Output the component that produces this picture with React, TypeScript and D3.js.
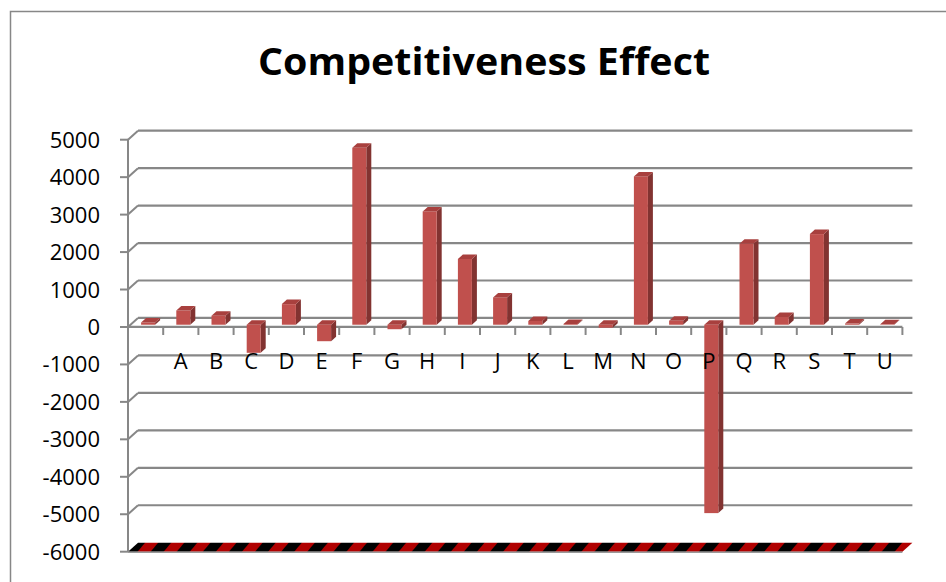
import React from 'react';
import * as d3 from 'd3';

const categories = ['', 'A', 'B', 'C', 'D', 'E', 'F', 'G', 'H', 'I', 'J', 'K', 'L', 'M', 'N', 'O', 'P', 'Q', 'R', 'S', 'T', 'U'];
const values = [60, 380, 240, -750, 550, -440, 4725, -120, 3025, 1755, 730, 100, 20, -80, 3960, 105, -5030, 2165, 205, 2420, 30, 12];
const yTicks = [5000, 4000, 3000, 2000, 1000, 0, -1000, -2000, -3000, -4000, -5000, -6000];

const W = 946;
const H = 582;
const DX = 10; // wall depth
const DY = -9;

export default function App() {
  const keys = categories.map((_, i) => String(i));
  const x = d3.scaleBand<string>().domain(keys).range([128, 902.4]);
  const y = d3.scaleLinear().domain([-6000, 5000]).range([551.7, 139.7]);
  const bw = x.bandwidth();
  const faceW = 14;
  const fdx = DX * 0.25;
  const fdy = DY * 0.25;
  const sdx = DX * 0.5;
  const sdy = DY * 0.5;
  const y0 = y(0);
  const yMin = y(-6000);
  const xL = x.range()[0];
  const xR = x.range()[1];

  return (
    <svg width={W} height={H} style={{ position: 'absolute', left: 0, top: 0 }}>
      <defs>
        <pattern id="hatch" width="20" height="20" patternUnits="userSpaceOnUse" patternTransform="rotate(40)">
          <rect width="20" height="20" fill="#000" />
          <rect width="10" height="20" fill="#b00000" />
        </pattern>
      </defs>
      <rect x={0} y={0} width={W} height={H} fill="#fff" />
      <rect x={10.5} y={11.5} width={W} height={H} fill="none" stroke="#878787" strokeWidth={1.5} />

      <text x={484} y={75} textAnchor="middle" fontFamily="Open Sans, sans-serif" fontWeight="bold"
        fontSize={38} textLength={452} lengthAdjust="spacingAndGlyphs" fill="#000">
        Competitiveness Effect
      </text>

      {/* back wall gridlines with side wall diagonals */}
      {yTicks.filter(t => t > -6000).map(t => (
        <g key={t}>
          <line x1={xL + DX} x2={xR + DX} y1={y(t) + DY} y2={y(t) + DY} stroke="#878787" strokeWidth={2.2} />
          <line x1={xL} x2={xL + DX} y1={y(t)} y2={y(t) + DY} stroke="#878787" strokeWidth={2} />
        </g>
      ))}

      {/* floor */}
      <path d={`M${xL},${yMin} L${xR},${yMin} L${xR + DX},${yMin + DY} L${xL + DX},${yMin + DY} Z`} fill="url(#hatch)" />
      <line x1={xL} x2={xR} y1={yMin + 0.5} y2={yMin + 0.5} stroke="#999" strokeWidth={1.5} />

      {/* value axis */}
      <line x1={xL} x2={xL} y1={y(5000)} y2={yMin} stroke="#878787" strokeWidth={2} />
      {yTicks.map(t => (
        <g key={t}>
          <line x1={xL - 8} x2={xL} y1={y(t)} y2={y(t)} stroke="#878787" strokeWidth={2} />
          <text x={100} y={y(t) + 8} textAnchor="end" fontFamily="Open Sans, sans-serif" fontSize={22} fill="#000">
            {t}
          </text>
        </g>
      ))}

      {/* category axis at zero */}
      <line x1={xL} x2={xR} y1={y0} y2={y0} stroke="#878787" strokeWidth={2.2} />
      {keys.map(k => (
        <line key={k} x1={x(k)! + bw} x2={x(k)! + bw} y1={y0} y2={y0 + 8} stroke="#878787" strokeWidth={2} />
      ))}

      {/* bars */}
      {values.map((v, i) => {
        const k = keys[i];
        const x0 = x(k)! + bw / 2 - faceW / 2 + fdx;
        const x1 = x0 + faceW;
        const yTop = Math.min(y(v), y0) + fdy;
        const yBot = Math.max(y(v), y0) + fdy;
        return (
          <g key={k}>
            <path d={`M${x1},${yTop} L${x1 + sdx},${yTop + sdy} L${x1 + sdx},${yBot + sdy} L${x1},${yBot} Z`} fill="#823331" />
            <rect x={x0} y={yTop} width={faceW} height={yBot - yTop} fill="#c0504d" />
            <path d={`M${x0},${yTop} L${x1},${yTop} L${x1 + sdx},${yTop + sdy} L${x0 + sdx},${yTop + sdy} Z`} fill="#a8403e" />
          </g>
        );
      })}

      {categories.map((c, i) => (
        <text key={i} x={x(keys[i])! + bw / 2} y={369} textAnchor="middle" fontFamily="Open Sans, sans-serif"
          fontSize={22} fill="#000">
          {c}
        </text>
      ))}
    </svg>
  );
}
